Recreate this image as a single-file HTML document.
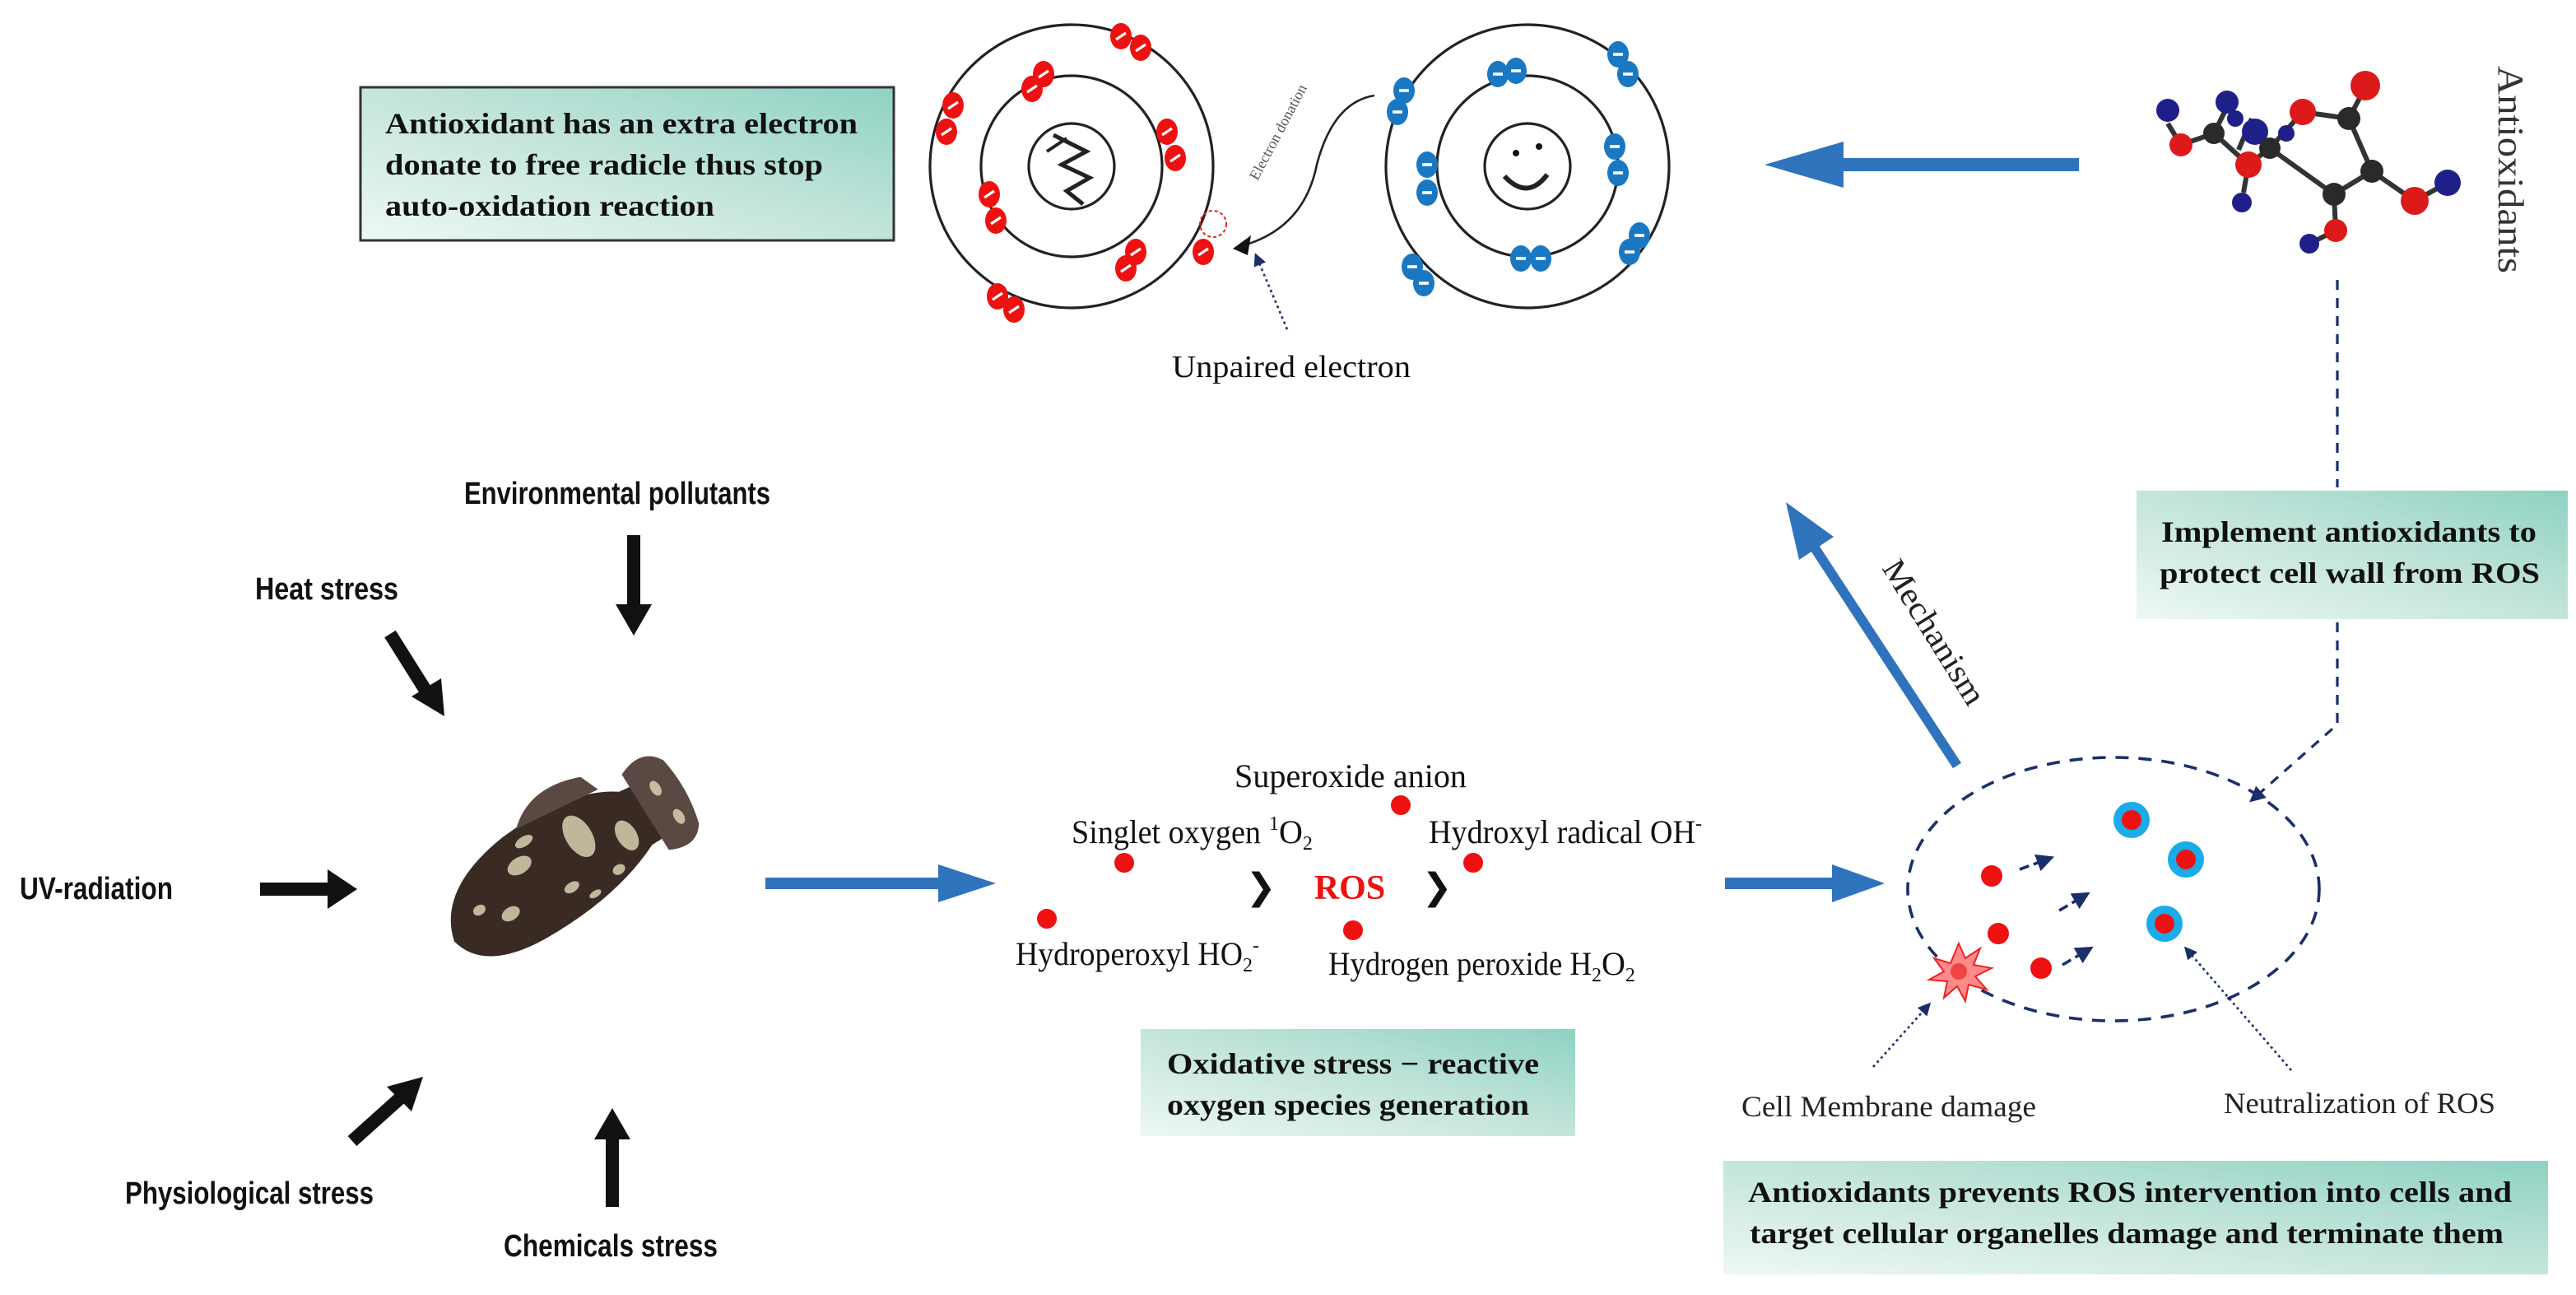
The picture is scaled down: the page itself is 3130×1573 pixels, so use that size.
<!DOCTYPE html>
<html><head><meta charset="utf-8"><style>
html,body{margin:0;padding:0;background:#fff;}
svg{display:block;}
.ser{font-family:"Liberation Serif",serif;}
.nar{font-family:"Liberation Sans Narrow","Liberation Sans",sans-serif;font-weight:bold;}
</style></head><body>
<svg width="3130" height="1573" viewBox="0 0 1565 786.5" xmlns="http://www.w3.org/2000/svg">
<defs>
<linearGradient id="tg" x1="0" y1="1" x2="1" y2="0">
<stop offset="0" stop-color="#eef8f5"/><stop offset="0.55" stop-color="#bfe3d9"/><stop offset="1" stop-color="#8ed2c2"/>
</linearGradient>
<marker id="bah" viewBox="0 0 10 10" refX="8" refY="5" markerWidth="6" markerHeight="6" orient="auto"><path d="M0,0 L10,5 L0,10 z" fill="#1a2f6a"/></marker>
<g id="re"><ellipse rx="6.5" ry="8" fill="#ee1111"/><line x1="-3" y1="2" x2="3" y2="-2" stroke="#fff" stroke-width="1.6"/></g>
<g id="be"><ellipse rx="6.5" ry="8" fill="#1a78c2"/><line x1="-3" y1="0" x2="3" y2="0" stroke="#fff" stroke-width="1.8"/></g>
</defs>

<!-- Box 1 -->
<rect x="219" y="53" width="324" height="93" fill="url(#tg)" stroke="#333" stroke-width="1.5"/>
<g class="ser" font-size="18" font-weight="bold" fill="#111" lengthAdjust="spacingAndGlyphs">
<text x="234" y="81" textLength="287" lengthAdjust="spacingAndGlyphs">Antioxidant has an extra electron</text>
<text x="234" y="106" textLength="266" lengthAdjust="spacingAndGlyphs">donate to free radicle thus stop</text>
<text x="234" y="131" textLength="200" lengthAdjust="spacingAndGlyphs">auto-oxidation reaction</text>
</g>

<!-- left atom -->
<g fill="none" stroke="#222" stroke-width="1.6">
<circle cx="651" cy="101" r="86"/><circle cx="651" cy="101" r="55"/><circle cx="651" cy="101" r="26"/>
<path d="M640,82 L660,92 L645,100 L662,108 L648,116 L658,124" stroke-width="2.5"/>
<path d="M636,92 L648,84" stroke-width="2"/>
</g>
<circle cx="737" cy="136" r="8" fill="none" stroke="#e22" stroke-width="1" stroke-dasharray="2,1.5"/>
<g>
<use href="#re" x="681" y="22"/><use href="#re" x="693" y="29"/>
<use href="#re" x="579" y="64"/><use href="#re" x="575" y="80"/>
<use href="#re" x="606" y="180"/><use href="#re" x="616" y="188"/>
<use href="#re" x="731" y="153"/>
<use href="#re" x="627" y="54"/><use href="#re" x="634" y="45"/>
<use href="#re" x="709" y="80"/><use href="#re" x="714" y="96"/>
<use href="#re" x="601" y="118"/><use href="#re" x="605" y="134"/>
<use href="#re" x="684" y="163"/><use href="#re" x="690" y="153"/>
</g>
<!-- right atom -->
<g fill="none" stroke="#222" stroke-width="1.6">
<circle cx="928" cy="101" r="86"/><circle cx="928" cy="101" r="55"/><circle cx="928" cy="101" r="26"/>
<path d="M914,107 Q928,122 940,106" stroke-width="3"/>
</g>
<circle cx="921" cy="93" r="2" fill="#111"/><circle cx="935" cy="89" r="2" fill="#111"/>
<g>
<use href="#be" x="853" y="55"/><use href="#be" x="849" y="68"/>
<use href="#be" x="983" y="33"/><use href="#be" x="989" y="45"/>
<use href="#be" x="858" y="162"/><use href="#be" x="865" y="172"/>
<use href="#be" x="990" y="153"/><use href="#be" x="996" y="143"/>
<use href="#be" x="910" y="45"/><use href="#be" x="921" y="43"/>
<use href="#be" x="981" y="89"/><use href="#be" x="983" y="105"/>
<use href="#be" x="867" y="100"/><use href="#be" x="867" y="117"/>
<use href="#be" x="924" y="157"/><use href="#be" x="936" y="157"/>
</g>
<!-- electron donation -->
<path d="M835,58 Q810,62 800,100 Q792,140 752,150" fill="none" stroke="#222" stroke-width="1.3"/>
<path d="M749,151 L760,143 L758,155 z" fill="#111"/>
<text class="ser" font-size="9" fill="#555" transform="translate(764,110) rotate(-62)">Electron donation</text>
<line x1="782" y1="200" x2="763" y2="155" stroke="#1a2f6a" stroke-width="1.3" stroke-dasharray="1.5,2" marker-end="url(#bah)"/>
<text class="ser" x="712" y="229" font-size="19" textLength="145" lengthAdjust="spacingAndGlyphs" fill="#111">Unpaired electron</text>

<!-- big blue arrow left -->
<rect x="1095" y="96" width="168" height="8" fill="#2f73bd"/>
<path d="M1072,100 L1120,86 L1120,114 z" fill="#2f73bd"/>

<!-- molecule -->
<g stroke="#333" stroke-width="3">
<line x1="1317" y1="75" x2="1325" y2="88"/><line x1="1325" y1="88" x2="1345" y2="81"/>
<line x1="1345" y1="81" x2="1353" y2="65"/><line x1="1345" y1="81" x2="1366" y2="100"/>
<line x1="1366" y1="100" x2="1379" y2="90"/><line x1="1366" y1="100" x2="1363" y2="117"/>
<line x1="1379" y1="90" x2="1399" y2="68"/><line x1="1399" y1="68" x2="1427" y2="72"/>
<line x1="1427" y1="72" x2="1437" y2="53"/><line x1="1427" y1="72" x2="1441" y2="104"/>
<line x1="1441" y1="104" x2="1418" y2="118"/><line x1="1418" y1="118" x2="1379" y2="90"/>
<line x1="1418" y1="118" x2="1419" y2="140"/><line x1="1419" y1="140" x2="1403" y2="148"/>
<line x1="1441" y1="104" x2="1467" y2="122"/><line x1="1467" y1="122" x2="1487" y2="111"/>
<line x1="1360" y1="91" x2="1368" y2="72"/>
</g>
<g>
<circle cx="1317" cy="67" r="7" fill="#1f1f8a"/><circle cx="1353" cy="62" r="7" fill="#1f1f8a"/>
<circle cx="1370" cy="80" r="8" fill="#1f1f8a"/><circle cx="1389" cy="81" r="5" fill="#1f1f8a"/>
<circle cx="1362" cy="123" r="6" fill="#1f1f8a"/><circle cx="1403" cy="148" r="6" fill="#1f1f8a"/>
<circle cx="1487" cy="111" r="8" fill="#1f1f8a"/><circle cx="1358" cy="72" r="5" fill="#1f1f8a"/>
<circle cx="1325" cy="88" r="7" fill="#dd1a1a"/><circle cx="1366" cy="100" r="8" fill="#dd1a1a"/>
<circle cx="1399" cy="68" r="8" fill="#dd1a1a"/><circle cx="1437" cy="52" r="9" fill="#dd1a1a"/>
<circle cx="1467" cy="122" r="8.5" fill="#dd1a1a"/><circle cx="1419" cy="140" r="7" fill="#dd1a1a"/>
<circle cx="1345" cy="81" r="6.5" fill="#2a2a2a"/><circle cx="1379" cy="90" r="6.5" fill="#2a2a2a"/>
<circle cx="1427" cy="72" r="7" fill="#2a2a2a"/><circle cx="1441" cy="104" r="7" fill="#2a2a2a"/>
<circle cx="1418" cy="118" r="7" fill="#2a2a2a"/>
</g>
<text class="ser" font-size="22" fill="#333" transform="translate(1518,40) rotate(90)" textLength="126" lengthAdjust="spacingAndGlyphs">Antioxidants</text>

<!-- dashed connectors -->
<line x1="1420" y1="170" x2="1420" y2="296" stroke="#1a2f6a" stroke-width="1.6" stroke-dasharray="6,5"/>
<path d="M1420,378 L1420,440 L1368,486" fill="none" stroke="#1a2f6a" stroke-width="1.6" stroke-dasharray="6,5" marker-end="url(#bah)"/>

<!-- Box 2 -->
<rect x="1298" y="298" width="262" height="78" fill="url(#tg)"/>
<g class="ser" font-size="18" font-weight="bold" fill="#111">
<text x="1313" y="329" textLength="228" lengthAdjust="spacingAndGlyphs">Implement antioxidants to</text>
<text x="1312" y="354" textLength="231" lengthAdjust="spacingAndGlyphs">protect cell wall from ROS</text>
</g>

<!-- mechanism arrow -->
<line x1="1189" y1="465" x2="1102" y2="332" stroke="#2f73bd" stroke-width="6"/>
<path d="M1085,305 L1114,326 L1093,340 z" fill="#2f73bd"/>
<text class="ser" font-size="20" fill="#222" transform="translate(1143,345) rotate(58)" textLength="100" lengthAdjust="spacingAndGlyphs">Mechanism</text>

<!-- stressors -->
<g class="nar" font-size="19" fill="#111">
<text x="282" y="306" textLength="186" lengthAdjust="spacingAndGlyphs">Environmental pollutants</text>
<text x="155" y="364" textLength="87" lengthAdjust="spacingAndGlyphs">Heat stress</text>
<text x="12" y="546" textLength="93" lengthAdjust="spacingAndGlyphs">UV-radiation</text>
<text x="76" y="731" textLength="151" lengthAdjust="spacingAndGlyphs">Physiological stress</text>
<text x="306" y="763" textLength="130" lengthAdjust="spacingAndGlyphs">Chemicals stress</text>
</g>
<g fill="#111">
<rect x="381" y="325" width="8" height="44"/><path d="M374,367 L396,367 L385,386 z"/>
<line x1="237" y1="385" x2="259" y2="420" stroke="#111" stroke-width="8"/><path d="M250,423 L268,412 L270,435 z"/>
<rect x="158" y="536" width="42" height="8"/><path d="M199,528 L217,540 L199,552 z"/>
<line x1="214" y1="693" x2="243" y2="667" stroke="#111" stroke-width="8"/><path d="M235,660 L257,654 L250,675 z"/>
<rect x="368" y="690" width="8" height="43"/><path d="M361,692 L383,692 L372,673 z"/>
</g>

<!-- fish -->
<g transform="translate(340,527) rotate(-32)">
<path d="M-78,4 Q-70,-28 -20,-34 Q30,-38 55,-20 L70,-18 L66,18 L55,18 Q20,34 -30,32 Q-72,30 -78,4 z" fill="#3a2a24"/>
<path d="M62,-28 Q80,-36 88,-22 Q92,0 86,22 Q78,34 62,26 z" fill="#5a4842"/>
<path d="M-10,-34 Q10,-52 40,-40 L45,-28 z" fill="#5a4842"/>
<g fill="#d8d0b0" opacity="0.85">
<ellipse cx="20" cy="-10" rx="8" ry="14"/><ellipse cx="45" cy="5" rx="6" ry="10"/>
<ellipse cx="-20" cy="-14" rx="8" ry="5"/><ellipse cx="-40" cy="8" rx="6" ry="4"/>
<ellipse cx="0" cy="14" rx="5" ry="3"/><ellipse cx="-55" cy="-4" rx="4" ry="3"/>
<ellipse cx="30" cy="20" rx="4" ry="3"/><ellipse cx="75" cy="-10" rx="3" ry="5"/>
<ellipse cx="78" cy="12" rx="3" ry="5"/><ellipse cx="-10" cy="-25" rx="6" ry="3"/>
<ellipse cx="10" cy="25" rx="4" ry="2"/>
</g>
</g>

<!-- blue arrow 1 -->
<rect x="465" y="533" width="115" height="7" fill="#2f73bd"/>
<path d="M605,536.5 L570,525 L570,548 z" fill="#2f73bd"/>

<!-- ROS -->
<g class="ser" font-size="20" fill="#111">
<text x="750" y="478" textLength="141" lengthAdjust="spacingAndGlyphs">Superoxide anion</text>
<text x="651" y="512">
<tspan textLength="115" lengthAdjust="spacingAndGlyphs">Singlet oxygen</tspan><tspan font-size="12" dx="5" dy="-8">1</tspan><tspan dy="8">O</tspan><tspan font-size="12" dy="4">2</tspan></text>
<text x="868" y="512"><tspan textLength="162" lengthAdjust="spacingAndGlyphs">Hydroxyl radical OH</tspan><tspan font-size="12" dy="-8">-</tspan></text>
<text x="617" y="586"><tspan textLength="138" lengthAdjust="spacingAndGlyphs">Hydroperoxyl HO</tspan><tspan font-size="12" dy="4">2</tspan><tspan font-size="12" dy="-12">-</tspan></text>
<text x="807" y="592"><tspan textLength="160" lengthAdjust="spacingAndGlyphs">Hydrogen peroxide H</tspan><tspan font-size="12" dy="4">2</tspan><tspan dy="-4">O</tspan><tspan font-size="12" dy="4">2</tspan></text>
</g>
<text class="ser" x="820" y="546" font-size="21" font-weight="bold" fill="#ee1111" text-anchor="middle">ROS</text>
<text x="766" y="546" font-size="22" font-weight="bold" fill="#111" font-family="DejaVu Sans,sans-serif" text-anchor="middle">❯</text>
<text x="873" y="546" font-size="22" font-weight="bold" fill="#111" font-family="DejaVu Sans,sans-serif" text-anchor="middle">❯</text>
<g fill="#ee1111">
<circle cx="851" cy="489" r="6"/><circle cx="683" cy="524" r="6"/><circle cx="895" cy="524" r="6"/>
<circle cx="636" cy="558" r="6"/><circle cx="822" cy="565" r="6"/>
</g>

<!-- Box 3 -->
<rect x="693" y="625" width="264" height="65" fill="url(#tg)"/>
<g class="ser" font-size="18" font-weight="bold" fill="#111">
<text x="709" y="652" textLength="226" lengthAdjust="spacingAndGlyphs">Oxidative stress − reactive</text>
<text x="709" y="677" textLength="220" lengthAdjust="spacingAndGlyphs">oxygen species generation</text>
</g>

<!-- blue arrow 2 -->
<rect x="1048" y="533" width="70" height="7" fill="#2f73bd"/>
<path d="M1145,536.5 L1113,525 L1113,548 z" fill="#2f73bd"/>

<!-- cell -->
<ellipse cx="1284" cy="540" rx="125" ry="80" fill="none" stroke="#1a2f6a" stroke-width="1.8" stroke-dasharray="8,6"/>
<g fill="#ee1111"><circle cx="1210" cy="532" r="6.5"/><circle cx="1214" cy="567" r="6.5"/><circle cx="1240" cy="588" r="6.5"/></g>
<g stroke="#1a2f6a" stroke-width="1.8" stroke-dasharray="6,3">
<line x1="1227" y1="528" x2="1246" y2="521" marker-end="url(#bah)"/>
<line x1="1251" y1="553" x2="1268" y2="543" marker-end="url(#bah)"/>
<line x1="1253" y1="586" x2="1270" y2="576" marker-end="url(#bah)"/>
</g>
<g><circle cx="1295" cy="498" r="11" fill="#1aace8"/><circle cx="1295" cy="498" r="6" fill="#ee1111"/>
<circle cx="1328" cy="522" r="11" fill="#1aace8"/><circle cx="1328" cy="522" r="6" fill="#ee1111"/>
<circle cx="1315" cy="561" r="11" fill="#1aace8"/><circle cx="1315" cy="561" r="6" fill="#ee1111"/></g>
<path d="M1190,573 L1194,582 L1203,576 L1199,586 L1210,588 L1200,593 L1207,601 L1196,598 L1194,608 L1189,599 L1181,606 L1183,596 L1172,595 L1181,590 L1175,582 L1185,585 z" fill="#ff8a8a" stroke="#ee2222" stroke-width="1"/>
<circle cx="1190" cy="590" r="5" fill="#ee4444"/>
<line x1="1138" y1="648" x2="1172" y2="610" stroke="#1a2f6a" stroke-width="1.3" stroke-dasharray="1.5,2" marker-end="url(#bah)"/>
<line x1="1392" y1="650" x2="1328" y2="576" stroke="#1a2f6a" stroke-width="1.3" stroke-dasharray="1.5,2" marker-end="url(#bah)"/>
<g class="ser" font-size="18" fill="#222">
<text x="1058" y="678" textLength="179" lengthAdjust="spacingAndGlyphs">Cell Membrane damage</text>
<text x="1351" y="676" textLength="165" lengthAdjust="spacingAndGlyphs">Neutralization of ROS</text>
</g>

<!-- Box 4 -->
<rect x="1047" y="705" width="501" height="69" fill="url(#tg)"/>
<g class="ser" font-size="18" font-weight="bold" fill="#111">
<text x="1062" y="730" textLength="464" lengthAdjust="spacingAndGlyphs">Antioxidants prevents ROS intervention into cells and</text>
<text x="1063" y="755" textLength="458" lengthAdjust="spacingAndGlyphs">target cellular organelles damage and terminate them</text>
</g>
</svg>
</body></html>
